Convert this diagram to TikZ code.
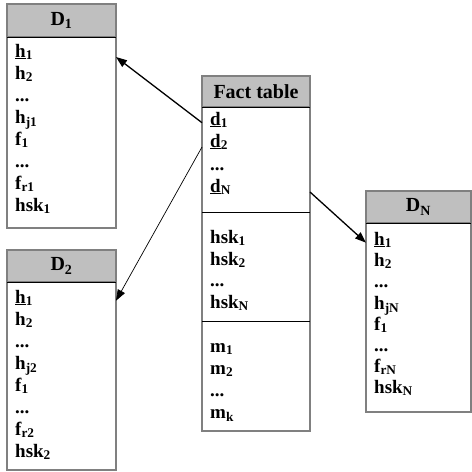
\documentclass[tikz,border=0pt]{standalone}
\usepackage{fontspec}
\setmainfont{Liberation Serif}
\usetikzlibrary{arrows.meta}

\tikzset{
  tbl/.style={draw=black!50, line width=1.1pt, inner sep=0pt, outer sep=0pt, anchor=north west},
  tblhead/.style={tbl, fill=black!25, font=\bfseries\fontsize{20}{20}\selectfont},
  rowtext/.style={anchor=base west, inner sep=0pt, font=\bfseries\fontsize{19}{19}\selectfont},
  divider/.style={line width=0.9pt},
  fklink/.style={-{Triangle[length=11pt,width=8pt]}, line width=1.3pt},
}

\begin{document}
\begin{tikzpicture}[x=1pt,y=-1pt]
      \useasboundingbox (0,0) rectangle (472,472);

      % dimension table D1
      \node[tbl, minimum width=109pt, minimum height=224pt] (dA) at (7,4) {};
      \node[tblhead, minimum width=109pt, minimum height=33pt] (dAh) at (7,4) {D\textsubscript{1}};
      \draw[divider] (dAh.south west) -- (dAh.south east);
      \node[rowtext] (ah1) at (15,57) {\underline{h}\textsubscript{1}};
      \node[rowtext] (ah2) at (15,79) {h\textsubscript{2}};
      \node[rowtext] (aq1) at (15,101) {...};
      \node[rowtext] (ahj) at (15,123) {h\textsubscript{j1}};
      \node[rowtext] (af1) at (15,145) {f\textsubscript{1}};
      \node[rowtext] (aq2) at (15,167) {...};
      \node[rowtext] (afr) at (15,189) {f\textsubscript{r1}};
      \node[rowtext] (ahsk) at (15,211) {hsk\textsubscript{1}};

      % dimension table D2
      \node[tbl, minimum width=109pt, minimum height=220pt] (dB) at (7,250) {};
      \node[tblhead, minimum width=109pt, minimum height=32pt] (dBh) at (7,250) {D\textsubscript{2}};
      \draw[divider] (dBh.south west) -- (dBh.south east);
      \node[rowtext] (bh1) at (15,303) {\underline{h}\textsubscript{1}};
      \node[rowtext] (bh2) at (15,325) {h\textsubscript{2}};
      \node[rowtext] (bq1) at (15,347) {...};
      \node[rowtext] (bhj) at (15,369) {h\textsubscript{j2}};
      \node[rowtext] (bf1) at (15,391) {f\textsubscript{1}};
      \node[rowtext] (bq2) at (15,413) {...};
      \node[rowtext] (bfr) at (15,435) {f\textsubscript{r2}};
      \node[rowtext] (bhsk) at (15,457) {hsk\textsubscript{2}};

      % fact table
      \node[tbl, minimum width=108pt, minimum height=355pt] (fact) at (202,76) {};
      \node[tblhead, minimum width=108pt, minimum height=31pt] (facth) at (202,76) {Fact table};
      \draw[divider] (facth.south west) -- (facth.south east);
      \draw[divider] (202,212) -- (310,212);
      \draw[divider] (202,321) -- (310,321);
      \node[rowtext] (fd1) at (210,125) {\underline{d}\textsubscript{1}};
      \node[rowtext] (fd2) at (210,147) {\underline{d}\textsubscript{2}};
      \node[rowtext] (fq1) at (210,170) {...};
      \node[rowtext] (fdN) at (210,192) {\underline{d}\textsubscript{N}};
      \node[rowtext] (fk1) at (210,243) {hsk\textsubscript{1}};
      \node[rowtext] (fk2) at (210,265) {hsk\textsubscript{2}};
      \node[rowtext] (fq2) at (210,286) {...};
      \node[rowtext] (fkN) at (210,308) {hsk\textsubscript{N}};
      \node[rowtext] (fm1) at (210,352) {m\textsubscript{1}};
      \node[rowtext] (fm2) at (210,374) {m\textsubscript{2}};
      \node[rowtext] (fq3) at (210,396) {...};
      \node[rowtext] (fmk) at (210,418) {m\textsubscript{k}};

      % dimension table DN
      \node[tbl, minimum width=105pt, minimum height=221pt] (dN) at (366,191) {};
      \node[tblhead, minimum width=105pt, minimum height=32pt] (dNh) at (366,191) {D\textsubscript{N}};
      \draw[divider] (dNh.south west) -- (dNh.south east);
      \node[rowtext] (nh1) at (374,245) {\underline{h}\textsubscript{1}};
      \node[rowtext] (nh2) at (374,266) {h\textsubscript{2}};
      \node[rowtext] (nq1) at (374,287) {...};
      \node[rowtext] (nhj) at (374,309) {h\textsubscript{jN}};
      \node[rowtext] (nf1) at (374,330) {f\textsubscript{1}};
      \node[rowtext] (nq2) at (374,351) {...};
      \node[rowtext] (nfr) at (374,372) {f\textsubscript{rN}};
      \node[rowtext] (nhsk) at (374,393) {hsk\textsubscript{N}};

      % foreign keys
      \draw[fklink] (fact.west |- fd1.mid) -- (dA.east |- ah1.base);
      \draw[fklink, line width=0.7pt] (fact.west |- fd2.base) -- (dB.east |- bh1.mid);
      \draw[fklink] (fact.east |- fdN.base) -- (dN.west |- nh1.mid);
    \end{tikzpicture}
\end{document}
